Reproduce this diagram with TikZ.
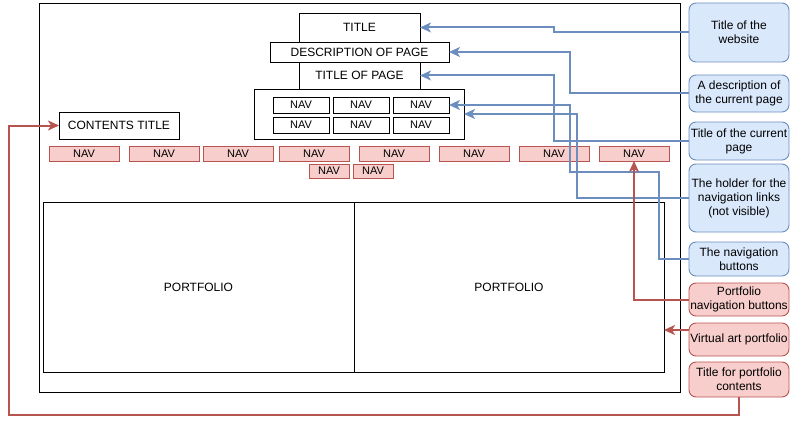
\documentclass[tikz,border=0pt]{standalone}
\usepackage{fontspec}
\setmainfont{Liberation Sans}
\usepackage{xcolor}
\usepackage{tikz}
\usetikzlibrary{positioning, arrows.meta}
\definecolor{bluefill}{HTML}{DAE8FC}
\definecolor{blueline}{HTML}{6C8EBF}
\definecolor{redfill}{HTML}{F8CECC}
\definecolor{redline}{HTML}{B85450}

\begin{document}
\begin{tikzpicture}[x=1pt, y=-1pt,
    every node/.style={font=\fontsize{12}{14}\selectfont, outer sep=0pt},
    box/.style={draw=black, line width=0.9pt, inner sep=0pt},
    navnode/.style={box, minimum width=56pt, minimum height=16pt, font=\fontsize{11}{13}\selectfont},
    rednav/.style={draw=redline, fill=redfill, line width=0.9pt, minimum width=70pt, minimum height=15pt, inner sep=0pt, font=\fontsize{11}{13}\selectfont},
    callnode/.style={rounded corners=7pt, line width=0.9pt, minimum width=100pt, inner sep=0pt, align=center},
    bluenode/.style={callnode, draw=blueline, fill=bluefill},
    rednode/.style={callnode, draw=redline, fill=redfill},
    bluelink/.style={draw=blueline, line width=2pt, -{Stealth[length=11pt, width=10pt, inset=3pt]}},
    redlink/.style={draw=redline, line width=2pt, -{Stealth[length=11pt, width=10pt, inset=3pt]}}
]
\useasboundingbox (0,0) rectangle (793,428);

\node[box, minimum width=641pt, minimum height=389pt](frame) at (359.5,197.5){};

\node[box, minimum width=121pt, minimum height=29pt](ti) at (359.5,27.5){TITLE};
\node[box, minimum width=179pt, minimum height=20pt](de) at (359.5,52){DESCRIPTION OF PAGE};
\node[box, minimum width=121pt, minimum height=27pt](tp) at (359.5,75.5){TITLE OF PAGE};
\node[box, minimum width=210pt, minimum height=50pt](ho) at (359,114){};

\node[navnode](b1) at (301,105){NAV};
\node[navnode](b2)[right = 4pt of b1]{NAV};
\node[navnode](b3)[right = 4pt of b2]{NAV};
\node[navnode](b4) at (301,125){NAV};
\node[navnode](b5)[right = 4pt of b4]{NAV};
\node[navnode](b6)[right = 4pt of b5]{NAV};

\node[box, minimum width=120pt, minimum height=27pt](ct) at (119,125.5){CONTENTS TITLE};

\node[rednav](n1) at (84,153.5){NAV};
\node[rednav](n2)[right = 10pt of n1]{NAV};
\node[rednav](n3)[right = 4pt of n2]{NAV};
\node[rednav](n4)[right = 6pt of n3]{NAV};
\node[rednav](n5)[right = 10pt of n4]{NAV};
\node[rednav](n6)[right = 10pt of n5]{NAV};
\node[rednav](n7)[right = 10pt of n6]{NAV};
\node[rednav](n8)[right = 10pt of n7]{NAV};
\node[rednav, minimum width=40pt, minimum height=14pt](m1) at (329,171){NAV};
\node[rednav, minimum width=40pt, minimum height=14pt](m2)[right = 4pt of m1]{NAV};

\node[box, minimum width=311pt, minimum height=170pt](p1) at (198.5,287){PORTFOLIO};
\node[box, minimum width=310pt, minimum height=170pt](p2) at (509,287){PORTFOLIO};

\node[bluenode, minimum height=59pt](c1) at (739,32.5){Title of the\\website};
\node[bluenode, minimum height=37pt](c2) at (739,93.5){A description of\\the current page};
\node[bluenode, minimum height=38pt](c3) at (739,141){Title of the current\\page};
\node[bluenode, minimum height=68pt](c4) at (739,198){The holder for the\\navigation links\\(not visible)};
\node[bluenode, minimum height=34pt](c5) at (739,259){The navigation\\buttons};
\node[rednode, minimum height=33pt](c6) at (739,299.5){Portfolio\\navigation buttons};
\node[rednode, minimum height=33pt](c7) at (739,339.5){Virtual art portfolio};
\node[rednode, minimum height=35pt](c8) at (739,379.5){Title for portfolio\\contents};

\draw[bluelink] (c1.west) -- ++(-135,0) |- (ti.east);
\draw[bluelink] (c2.west) -- ++(-119,0) |- (de.east);
\draw[bluelink] (c3.west) -- ++(-135,0) |- (tp.east);
\draw[bluelink] (c4.west) -- ++(-112,0) |- (ho.east);
\draw[bluelink] (c5.west) -- ++(-30,0) -- ++(0,-87) -- ++(-89,0) |- (b3.east);
\draw[redlink] (c6.west) -| (n8.south);
\draw[redlink] ([yshift=9.5pt]c7.west) -- ([yshift=9.5pt]c7.west -| p2.east);
\draw[redlink] (c8.south) -- ++(0,18) -- ++(-730,0) |- (ct.west);
\end{tikzpicture}
\end{document}
